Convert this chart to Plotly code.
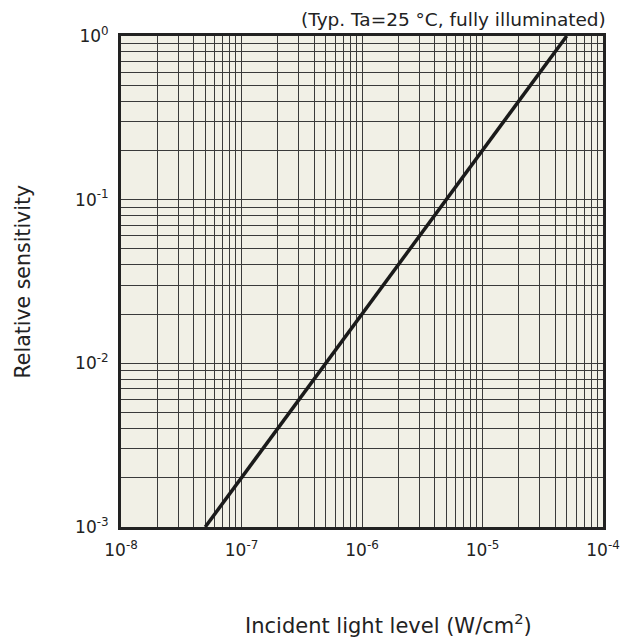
import plotly.graph_objects as go

# Data
light_level = [5e-8, 5e-5]          # W/cm^2
relative_sensitivity = [1e-3, 1.0]

x_tickvals = [1e-8, 1e-7, 1e-6, 1e-5, 1e-4]
x_ticktext = ["10<sup>-8</sup>", "10<sup>-7</sup>", "10<sup>-6</sup>", "10<sup>-5</sup>", "10<sup>-4</sup>"]
y_tickvals = [1e-3, 1e-2, 1e-1, 1e0]
y_ticktext = ["10<sup>-3</sup>", "10<sup>-2</sup>", "10<sup>-1</sup>", "10<sup>0</sup>"]

FONT = "DejaVu Sans"
GRID = "#3a3a3a"

fig = go.Figure()
fig.add_trace(go.Scatter(
    x=light_level, y=relative_sensitivity, mode="lines",
    line=dict(color="#1a1a1a", width=3.5), showlegend=False, hoverinfo="skip",
))

axis_common = dict(
    type="log",
    showgrid=True, gridcolor=GRID, gridwidth=1,
    showline=True, linecolor="#222", linewidth=3, mirror=True,
    ticks="", zeroline=False,
    tickfont=dict(family=FONT, size=17, color="#222"),
    minor=dict(showgrid=True, gridcolor=GRID, gridwidth=1, dtick="D1", ticks=""),
)

fig.update_xaxes(**axis_common, range=[-8, -4], tickvals=x_tickvals, ticktext=x_ticktext, ticklabelstandoff=6)
fig.update_yaxes(**axis_common, range=[-3, 0], tickvals=y_tickvals, ticktext=y_ticktext, ticklabelstandoff=6)

fig.update_layout(
    width=632, height=642,
    margin=dict(l=121, r=20, t=36, b=115),
    plot_bgcolor="#f1f0e6", paper_bgcolor="white",
    font=dict(family=FONT, color="#222"),
    annotations=[
        dict(text="(Typ. Ta=25 °C, fully illuminated)", xref="paper", yref="paper",
             x=1.01, y=1.0, xanchor="right", yanchor="middle", yshift=17, showarrow=False,
             font=dict(family=FONT, size=18.5, color="#222")),
        dict(text="Incident light level (W/cm<sup>2</sup>)", xref="paper", yref="paper",
             x=0.556, y=0, xanchor="center", yanchor="middle", yshift=-97, showarrow=False,
             font=dict(family=FONT, size=21, color="#222")),
        dict(text="Relative sensitivity", xref="paper", yref="paper",
             x=0, y=0.5, xanchor="center", yanchor="middle", xshift=-99, textangle=-90,
             showarrow=False, font=dict(family=FONT, size=20.5, color="#222")),
    ],
)

fig.write_html("out.html", config={"displayModeBar": False})

# remove default page margin so the figure sits at the window origin
with open("out.html", "r", encoding="utf-8") as f:
    html = f.read()
html = html.replace("<head>", "<head><style>html,body{margin:0;padding:0;}</style>", 1)
with open("out.html", "w", encoding="utf-8") as f:
    f.write(html)
